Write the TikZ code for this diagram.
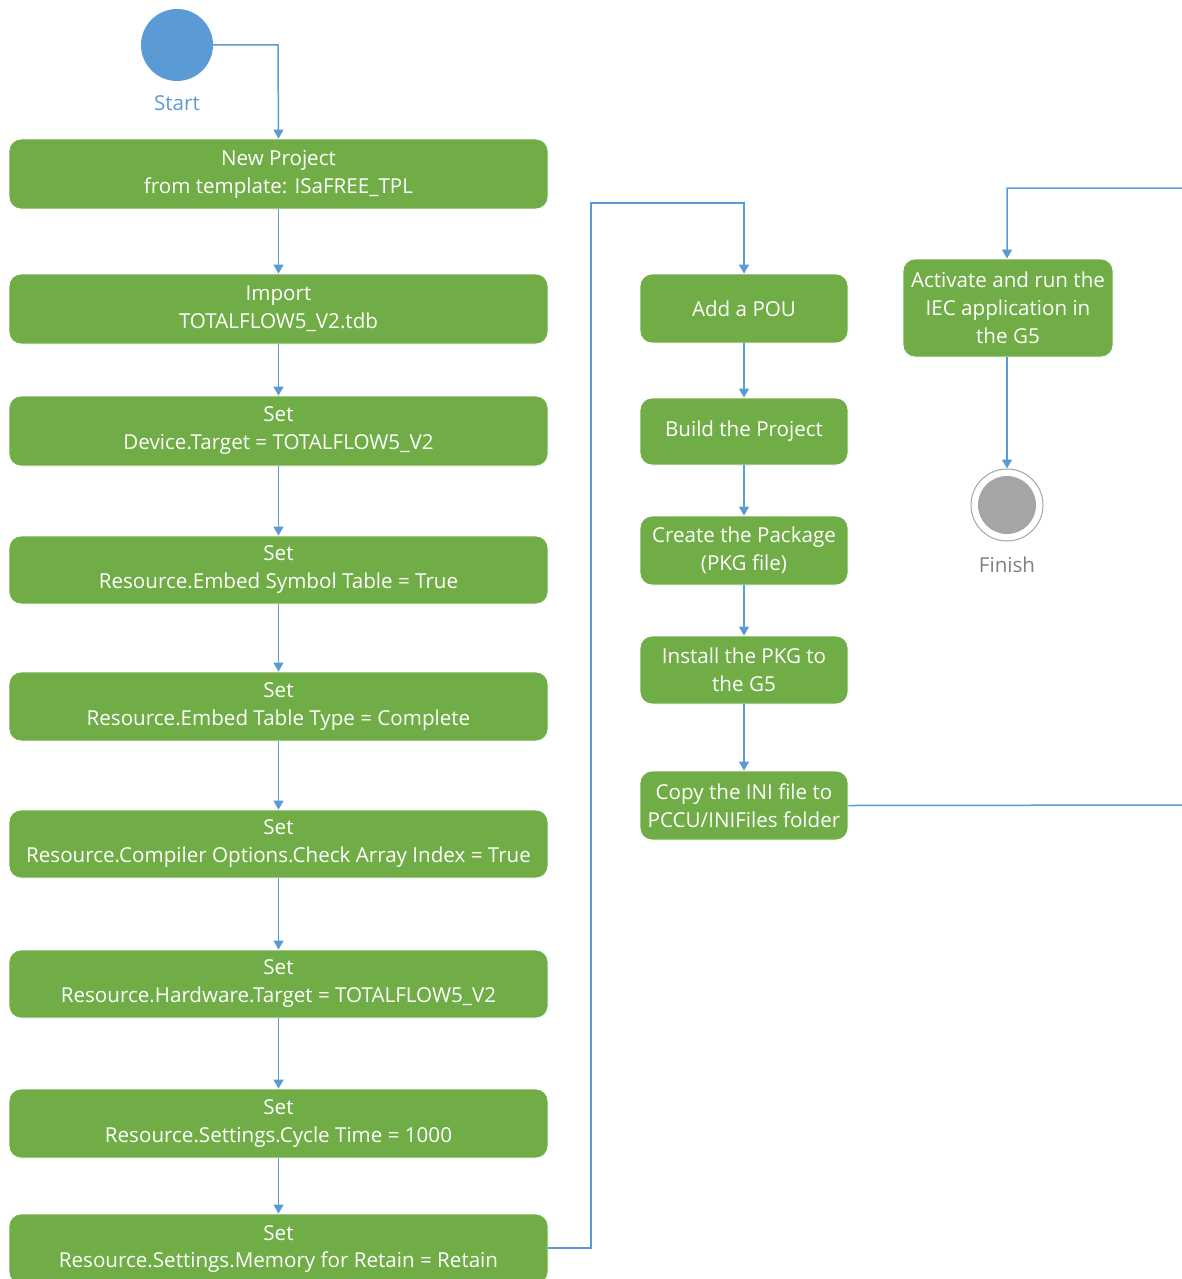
\documentclass[tikz,border=0pt]{standalone}
\usepackage{fontspec}
\setmainfont{Open Sans}
\usetikzlibrary{arrows.meta}
\definecolor{boxgreen}{HTML}{70AD47}
\definecolor{lineblue}{HTML}{5B9BD5}
\definecolor{fingray}{HTML}{A5A5A5}
\definecolor{fintext}{HTML}{7F7F7F}
\tikzset{
  stepbox/.style={draw=white, line width=0.8pt, fill=boxgreen, rounded corners=12pt, text=white,
    align=center, inner sep=0pt, font=\fontsize{20.6}{28}\selectfont},
  conn/.style={draw=lineblue, line width=1.5pt, -{Triangle[width=10pt,length=9pt]}},
  lbl/.style={font=\fontsize{20.6}{24}\selectfont}
}
\begin{document}
\begin{tikzpicture}[x=1pt,y=-1pt]
\useasboundingbox (0,0) rectangle (1181,1279);
% start
\node[circle, fill=lineblue, minimum size=72pt, inner sep=0pt] (start) at (177,45) {};
\node[lbl, text=lineblue] (startlbl) at (177,103) {Start};
% left column
\node[stepbox, minimum width=539pt, minimum height=70pt] (b1) at (278.5,174) {New Project\\from template: ISaFREE\_TPL};
\node[stepbox, minimum width=539pt, minimum height=70pt] (b2) at (278.5,309) {Import\\TOTALFLOW5\_V2.tdb};
\node[stepbox, minimum width=539pt, minimum height=70pt] (b3) at (278.5,431) {Set\\Device.Target = TOTALFLOW5\_V2};
\node[stepbox, minimum width=539pt, minimum height=68pt] (b4) at (278.5,570) {Set\\Resource.Embed Symbol Table = True};
\node[stepbox, minimum width=539pt, minimum height=69pt] (b5) at (278.5,706.5) {Set\\Resource.Embed Table Type = Complete};
\node[stepbox, minimum width=539pt, minimum height=68pt] (b6) at (278.5,844) {Set\\Resource.Compiler Options.Check Array Index = True};
\node[stepbox, minimum width=539pt, minimum height=68pt] (b7) at (278.5,984) {Set\\Resource.Hardware.Target = TOTALFLOW5\_V2};
\node[stepbox, minimum width=539pt, minimum height=69pt] (b8) at (278.5,1123.5) {Set\\Resource.Settings.Cycle Time = 1000};
\node[stepbox, minimum width=539pt, minimum height=70pt] (b9) at (278.5,1249) {Set\\Resource.Settings.Memory for Retain = Retain};
% middle column
\node[stepbox, minimum width=208pt, minimum height=69pt] (m1) at (744,308.5) {Add a POU};
\node[stepbox, minimum width=208pt, minimum height=67pt] (m2) at (744,431.5) {Build the Project};
\node[stepbox, minimum width=208pt, minimum height=69pt] (m3) at (744,550.5) {Create the Package\\(PKG file)};
\node[stepbox, minimum width=208pt, minimum height=68pt] (m4) at (744,670) {Install the PKG to\\the G5};
\node[stepbox, minimum width=208pt, minimum height=69pt] (m5) at (744,805.5) {Copy the INI file to\\PCCU/INIFiles folder};
% right column
\node[stepbox, minimum width=210pt, minimum height=98pt] (r1) at (1008,308) {Activate and run the\\IEC application in\\the G5};
\node[circle, draw=fingray, line width=1pt, fill=white, minimum size=72pt, inner sep=0pt] (fin) at (1007,505) {};
\node[circle, fill=fingray, minimum size=58pt, inner sep=0pt] (finin) at (1007,505) {};
\node[lbl, text=fintext] (finlbl) at (1007,565) {Finish};
% connectors
\coordinate (c1) at (278,45);
\draw[conn] (start.east) -- (c1) -- (b1.north);
\foreach \a/\b in {b1/b2,b2/b3,b3/b4,b4/b5,b5/b6,b6/b7,b7/b8,b8/b9,m1/m2,m2/m3,m3/m4,m4/m5}
  \draw[conn] (\a.south) -- (\b.north);
\coordinate (k1) at (591,1248);
\coordinate (k2) at (591,203);
\coordinate (k3) at (744,203);
\draw[conn] (b9.east |- k1) -- (k1) -- (k2) -- (k3) -- (m1.north);
\coordinate (q1) at (1200,805);
\coordinate (q2) at (1200,188);
\coordinate (q3) at (1007,188);
\draw[conn] (m5.east) -- (q1) -- (q2) -- (q3) -- (r1.north -| q3);
\draw[conn] (r1.south -| fin) -- (fin.north);
\end{tikzpicture}
\end{document}
